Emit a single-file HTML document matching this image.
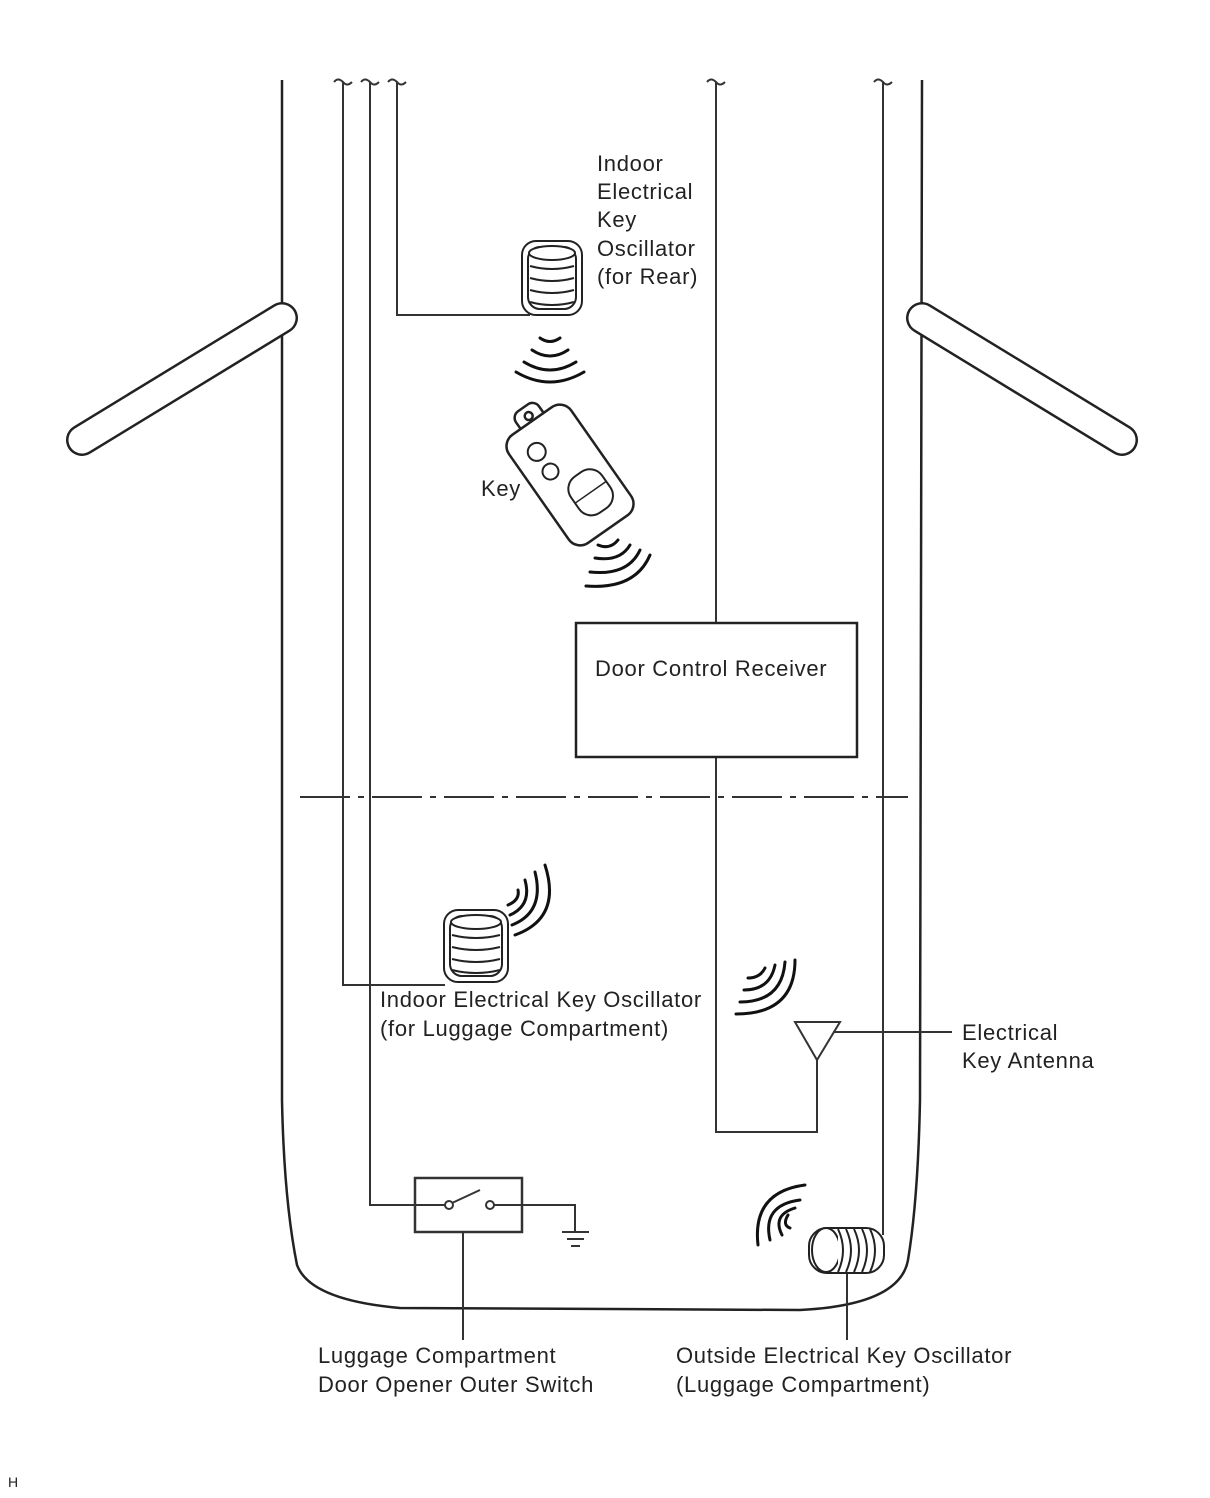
<!DOCTYPE html>
<html><head><style>
html,body{margin:0;padding:0;background:#fff;}
svg{display:block;}
text{font-family:"Liberation Sans",Arial,sans-serif;font-size:22px;letter-spacing:0.7px;fill:#222;}
</style></head><body>
<svg width="1210" height="1498" viewBox="0 0 1210 1498" xmlns="http://www.w3.org/2000/svg">
<g fill="none" stroke="#222" stroke-width="2.5">
<path d="M282 80 L282 1100 Q284 1200 297 1265 Q310 1300 400 1308 L800 1310 Q900 1305 908 1260 Q918 1200 920 1100 L922 80"/>
</g>
<!-- mirrors -->
<line x1="282" y1="318" x2="82" y2="440" stroke="#222" stroke-width="32" stroke-linecap="round"/>
<line x1="282" y1="318" x2="82" y2="440" stroke="#fff" stroke-width="27" stroke-linecap="round"/>
<line x1="922" y1="318" x2="1122" y2="440" stroke="#222" stroke-width="32" stroke-linecap="round"/>
<line x1="922" y1="318" x2="1122" y2="440" stroke="#fff" stroke-width="27" stroke-linecap="round"/>

<g fill="none" stroke="#333" stroke-width="2">
<path d="M343 82 L343 985 L445 985"/>
<path d="M370 82 L370 1205 L448 1205"/>
<path d="M397 82 L397 315 L530 315"/>
<path d="M716 82 L716 623"/>
<path d="M716 757 L716 1132 L817 1132 L817 1060"/>
<path d="M883 82 L883 1235"/>
<path d="M334 82 q4 -5 9 0 q4 5 9 0"/>
<path d="M361 82 q4 -5 9 0 q4 5 9 0"/>
<path d="M388 82 q4 -5 9 0 q4 5 9 0"/>
<path d="M707 82 q4 -5 9 0 q4 5 9 0"/>
<path d="M874 82 q4 -5 9 0 q4 5 9 0"/>
<line x1="300" y1="797" x2="908" y2="797" stroke-dasharray="50 8 6 8"/>
<path d="M795 1022 L840 1022 L817 1060 Z"/>
<line x1="833" y1="1032" x2="952" y2="1032"/>
<rect x="415" y="1178" width="107" height="54" stroke-width="2.5"/>
<circle cx="449" cy="1205" r="4" fill="#fff"/>
<circle cx="490" cy="1205" r="4" fill="#fff"/>
<line x1="452" y1="1203" x2="480" y2="1190"/>
<path d="M494 1205 L575 1205 L575 1232"/>
<line x1="562" y1="1232" x2="589" y2="1232"/>
<line x1="567" y1="1239" x2="584" y2="1239"/>
<line x1="571" y1="1246" x2="580" y2="1246"/>
<line x1="463" y1="1232" x2="463" y2="1340"/>
<line x1="847" y1="1272" x2="847" y2="1340"/>
</g>
<rect x="576" y="623" width="281" height="134" fill="#fff" stroke="#222" stroke-width="2.5"/>

<g fill="#fff" stroke="#222" stroke-width="2">
<rect x="522" y="241" width="60" height="74" rx="14"/>
<rect x="528" y="247" width="48" height="62" rx="12"/>
<ellipse cx="552" cy="253" rx="23" ry="7"/>
<path d="M530 266 Q552 272 574 266 M530 278 Q552 284 574 278 M530 290 Q552 296 574 290 M530 302 Q552 308 574 302"/>
</g>
<g fill="#fff" stroke="#222" stroke-width="2">
<rect x="444" y="910" width="64" height="72" rx="14"/>
<rect x="450" y="916" width="52" height="60" rx="12"/>
<ellipse cx="476" cy="922" rx="25" ry="7"/>
<path d="M452 935 Q476 941 500 935 M452 947 Q476 953 500 947 M452 959 Q476 965 500 959 M452 970 Q476 976 500 970"/>
</g>
<g fill="#fff" stroke="#222" stroke-width="2">
<rect x="809" y="1228" width="75" height="45" rx="18"/>
<ellipse cx="826" cy="1250" rx="14" ry="22"/>
<path d="M838 1229 Q848 1250 838 1272 M846 1229 Q856 1250 846 1272 M854 1229 Q864 1250 854 1272 M862 1229 Q872 1250 862 1272 M870 1229 Q880 1250 870 1272"/>
</g>

<g fill="none" stroke="#111" stroke-width="3" stroke-linecap="round">
<path d="M540 338 Q550 345 560 338"/>
<path d="M532 350 Q550 362 568 350"/>
<path d="M524 362 Q550 378 576 362"/>
<path d="M516 372 Q550 392 584 372"/>
<path d="M598 545 Q610 550 618 540"/>
<path d="M595 558 Q620 562 630 545"/>
<path d="M590 572 Q628 576 640 550"/>
<path d="M586 586 Q635 590 650 555"/>
<path d="M508 905 Q520 900 518 890"/>
<path d="M510 915 Q532 905 525 880"/>
<path d="M512 925 Q545 912 535 872"/>
<path d="M515 935 Q562 918 545 865"/>
<path d="M748 978 Q760 978 765 968"/>
<path d="M744 990 Q770 990 775 965"/>
<path d="M740 1002 Q782 1002 785 962"/>
<path d="M736 1014 Q795 1014 795 960"/>
<path d="M790 1228 Q782 1225 788 1215"/>
<path d="M782 1235 Q772 1215 795 1208"/>
<path d="M770 1240 Q762 1205 800 1200"/>
<path d="M758 1245 Q752 1192 805 1185"/>
</g>

<g transform="translate(570 475) rotate(-35)" fill="#fff" stroke="#222" stroke-width="2.5">
<rect x="-14" y="-82" width="28" height="22" rx="8"/>
<circle cx="0" cy="-72" r="4"/>
<rect x="-38" y="-66" width="76" height="132" rx="14"/>
<circle cx="-14" cy="-38" r="9" stroke-width="2"/>
<circle cx="-14" cy="-14" r="8" stroke-width="2"/>
<rect x="-12" y="4" width="38" height="44" rx="15" stroke-width="2"/>
<line x1="-12" y1="26" x2="26" y2="26" stroke-width="1.5"/>
</g>

<text x="597" y="171">Indoor</text>
<text x="597" y="199">Electrical</text>
<text x="597" y="227">Key</text>
<text x="597" y="256">Oscillator</text>
<text x="597" y="284">(for Rear)</text>
<text x="481" y="496">Key</text>
<text x="595" y="676">Door Control Receiver</text>
<text x="380" y="1007">Indoor Electrical Key Oscillator</text>
<text x="380" y="1036">(for Luggage Compartment)</text>
<text x="962" y="1040">Electrical</text>
<text x="962" y="1068">Key Antenna</text>
<text x="318" y="1363">Luggage Compartment</text>
<text x="318" y="1392">Door Opener Outer Switch</text>
<text x="676" y="1363">Outside Electrical Key Oscillator</text>
<text x="676" y="1392">(Luggage Compartment)</text>
<text x="8" y="1487" style="font-size:14px;letter-spacing:0">H</text>
</svg>
</body></html>
